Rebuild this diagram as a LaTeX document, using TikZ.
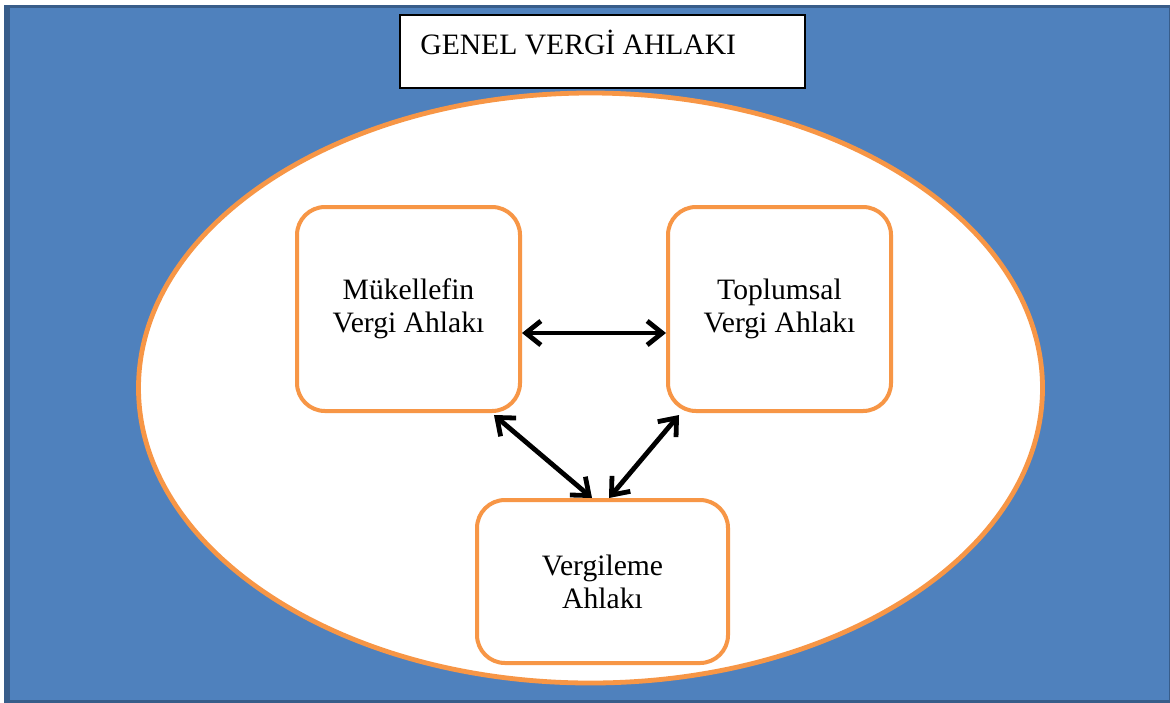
\documentclass[tikz,border=0pt]{standalone}
\usepackage{fontspec}
\setmainfont{Liberation Serif}
\usetikzlibrary{arrows.meta,shapes}

\definecolor{bgblue}{RGB}{79,129,189}
\definecolor{edgeblue}{RGB}{56,93,138}
\definecolor{ahlakorange}{RGB}{247,150,70}

\tikzset{
  ahlakbox/.style={draw=ahlakorange, line width=2pt, fill=white, rounded corners=14pt,
    align=center, minimum width=111.5pt, minimum height=102pt},
  baglanti/.style={{Straight Barb[length=7.5pt,width=12pt]}-{Straight Barb[length=7.5pt,width=12pt]},
    line width=2.4pt, black}
}

\begin{document}
\begin{tikzpicture}[x=0.5pt, y=-0.5pt]

  \fontsize{14.8}{16.5}\selectfont

  \useasboundingbox (0,0) rectangle (1170,702);

  % zemin
  \draw[fill=bgblue, draw=edgeblue, line width=1.5pt] (5,6) rectangle (1170,701);
  \fill[edgeblue] (5,6) rectangle (10,701);

  % baslik
  \draw[fill=white, line width=0.7pt] (400,15) rectangle (805,88);
  \node[anchor=base west, inner sep=0pt] (baslik) at (420,54) {GENEL VERGİ AHLAKI};

  \draw[fill=white, draw=ahlakorange, line width=2.4pt] (590.5,388) ellipse [x radius=226pt, y radius=147.5pt];

  \node[ahlakbox] (mukellef) at (408.5,309) {Mükellefin\\Vergi Ahlakı};
  \node[ahlakbox] (toplumsal) at (779.5,309) {Toplumsal\\Vergi Ahlakı};
  \node[ahlakbox, minimum width=125.5pt, minimum height=81.5pt] (vergileme) at (602.5,581.5) {Vergileme\\Ahlakı};

  \draw[baglanti] ([yshift=-12pt]mukellef.east) -- ([yshift=-12pt]toplumsal.west);
  \draw[baglanti] ([xshift=-14pt,yshift=-1pt]mukellef.south east) -- ([xshift=-5.25pt]vergileme.north);
  % \draw[baglanti] (mukellef.south) -- (vergileme.north);
  \draw[baglanti] ([xshift=6.5pt,yshift=-1pt]toplumsal.south west) -- ([xshift=3.25pt]vergileme.north);

\end{tikzpicture}
\end{document}
